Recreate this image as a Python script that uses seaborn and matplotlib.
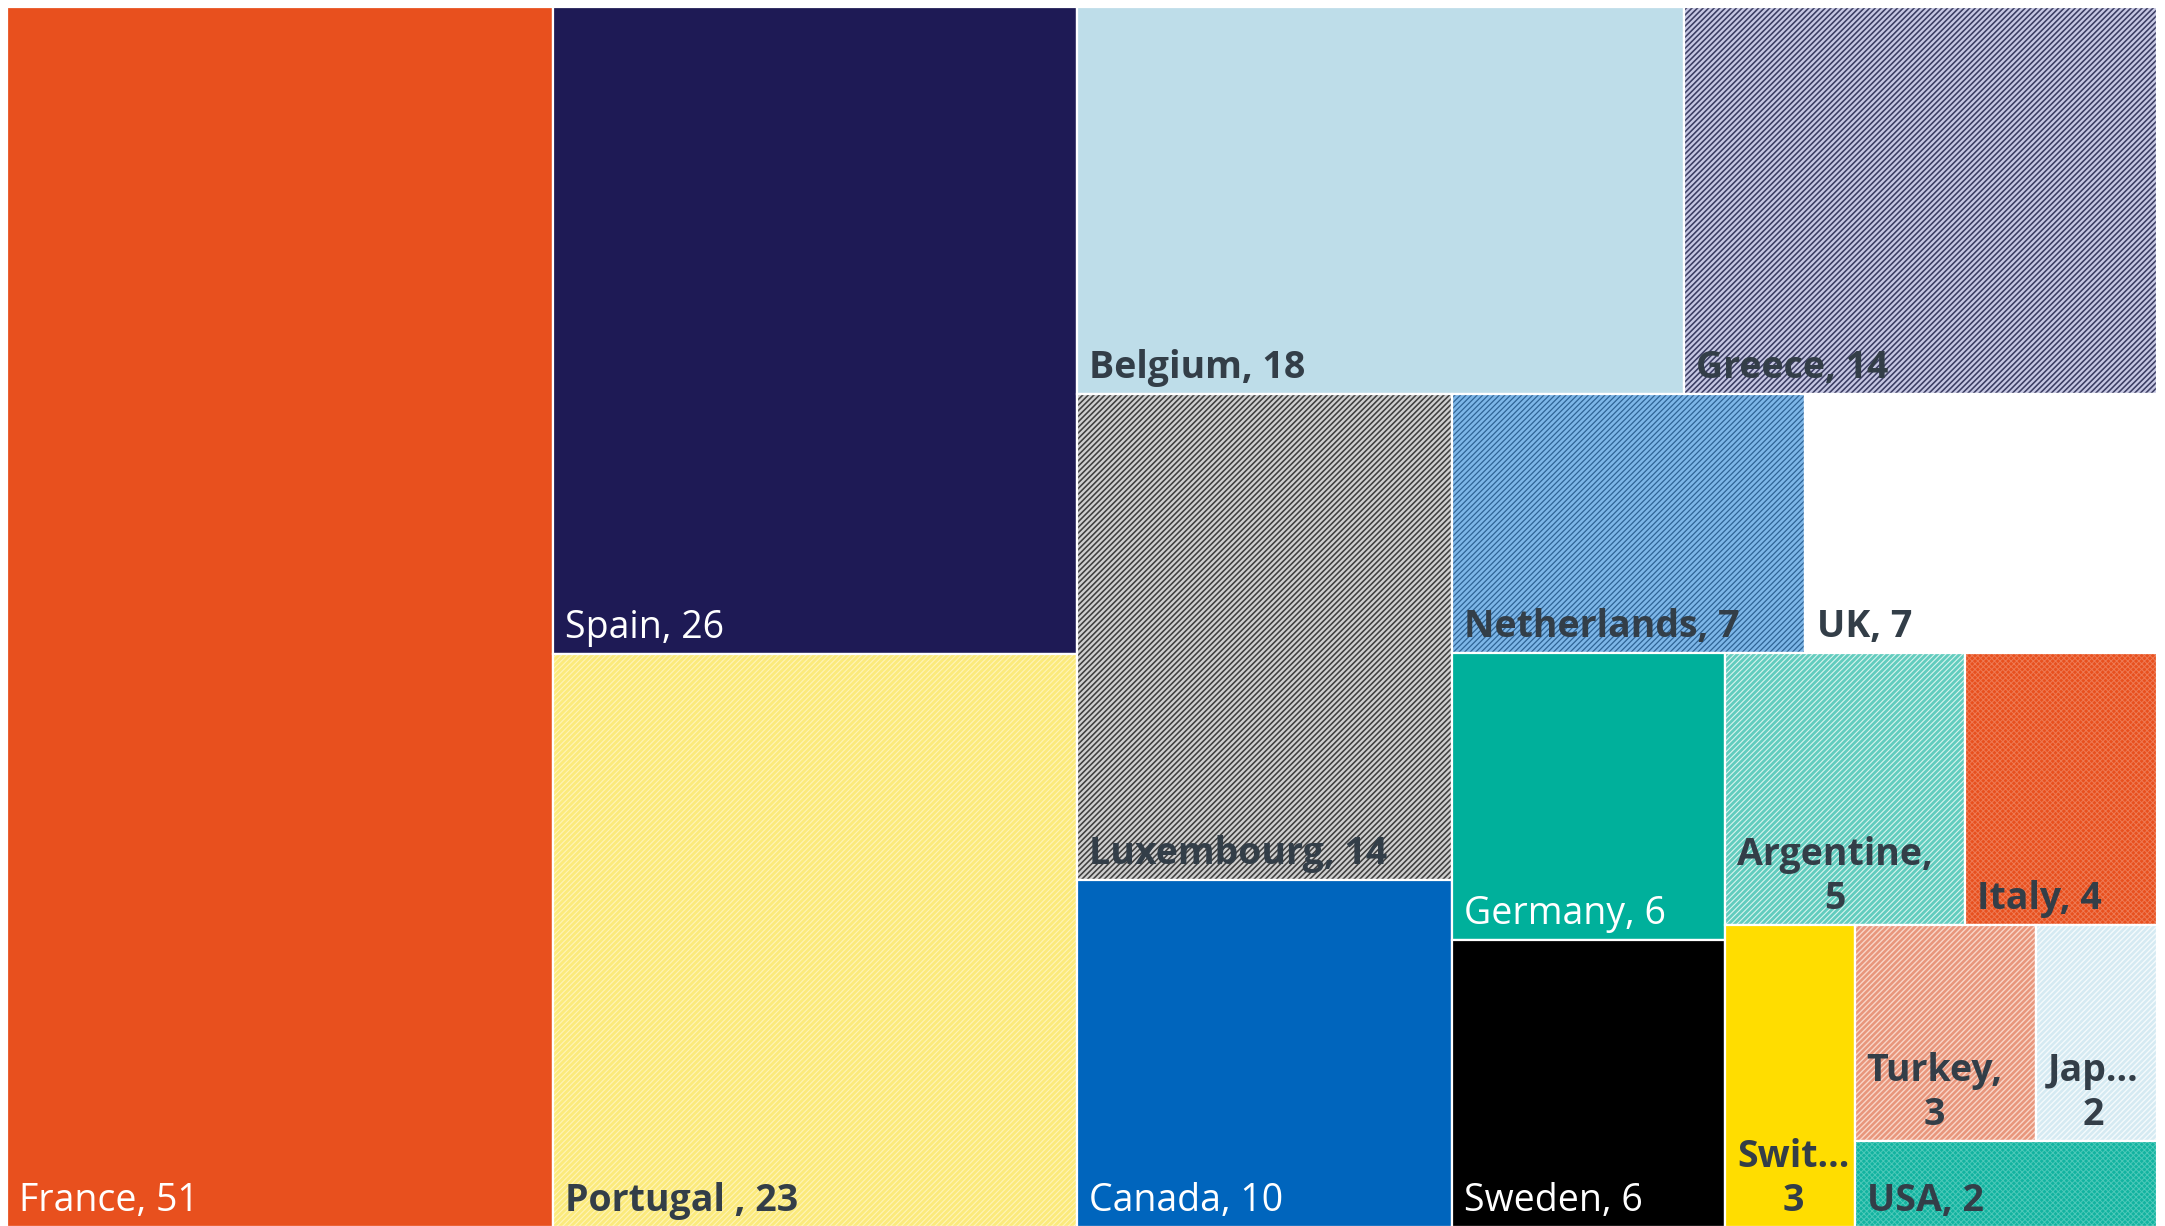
import matplotlib.pyplot as plt
import matplotlib.patches as patches
import seaborn as sns

#
# 01. Dados
#
paises = ["France", "Spain", "Portugal ", "Belgium", "Greece", "Luxembourg",
          "Canada", "Netherlands", "UK", "Germany", "Sweden", "Argentine",
          "Italy", "Switzerland", "Turkey", "Japan", "USA"]
valores = [51, 26, 23, 18, 14, 14, 10, 7, 7, 6, 6, 5, 4, 3, 3, 2, 2]

# quantos retângulos entram em cada faixa do treemap (igual ao Power BI)
faixas = [1, 2, 2, 2, 2, 2, 2, 1, 2, 1]

#
# 02. Estilo: (cor de fundo, hachura, cor da hachura, espessura da hachura)
#
estilos = [
    ("#E8501E", None, None, 0),              # France
    ("#1E1A55", None, None, 0),              # Spain
    ("#FBEA7C", "//////", "#FFF4B8", 0.8),   # Portugal
    ("#BEDDE9", None, None, 0),              # Belgium
    ("#C6C7E3", "//////", "#3B3D63", 1.15),  # Greece
    ("#CFCFCF", "//////", "#3F3F3F", 1.15),  # Luxembourg
    ("#0065BD", None, None, 0),              # Canada
    ("#7DB6E8", "//////", "#2F6496", 0.9),   # Netherlands
    ("#FFFFFF", None, None, 0),              # UK
    ("#00B09B", None, None, 0),              # Germany
    ("#000000", None, None, 0),              # Sweden
    ("#62CCBE", "//////", "#D9F4EF", 0.8),   # Argentine
    ("#E8501E", "xxxxxx", "#EE7A54", 0.7),   # Italy
    ("#FFDD00", None, None, 0),              # Switzerland
    ("#E8967C", "//////", "#F9D6C9", 1.0),   # Turkey
    ("#D5EAF2", "//////", "#F4FAFC", 1.0),   # Japan
    ("#12B3A0", "xxxxxx", "#4DC9B9", 0.7),   # USA
]
texto_claro = {"France", "Spain", "Canada", "Germany", "Sweden"}

LARGURA, ALTURA = 2150, 1220


#
# 03. Layout do treemap (faixas ao longo do lado menor)
#
def layout_treemap(vals, grupos, x, y, w, h):
    escala = w * h / sum(vals)
    rects = []
    i = 0
    for n in grupos:
        grupo = vals[i:i + n]
        i += n
        area = sum(grupo) * escala
        if w > h * 1.01:
            # coluna à esquerda
            cw = area / h
            yy = y
            for v in grupo:
                hh = v * escala / cw
                rects.append((x, yy, cw, hh))
                yy += hh
            x += cw
            w -= cw
        else:
            # linha no topo
            rh = area / w
            xx = x
            for v in grupo:
                ww = v * escala / rh
                rects.append((xx, y, ww, rh))
                xx += ww
            y += rh
            h -= rh
    return rects


retangulos = layout_treemap(valores, faixas, 0, 0, LARGURA, ALTURA)

#
# 04. Tema e figura
#
sns.set_theme(style="white")
plt.rcParams['font.family'] = ['Open Sans', 'DejaVu Sans']

fig = plt.figure(figsize=(21.65, 12.26), dpi=100)
ax = fig.add_axes([7 / 2165, -1 / 1226, LARGURA / 2165, ALTURA / 1226])
ax.set_xlim(0, LARGURA)
ax.set_ylim(ALTURA, 0)
ax.axis('off')

renderer = fig.canvas.get_renderer()


def largura_texto(s, props):
    t = ax.text(0, 0, s, **props)
    bb = t.get_window_extent(renderer)
    t.remove()
    return bb.width


def montar_rotulo(nome, valor, larg_linha, larg_corte, props):
    # uma linha só se sobrar folga; senão quebra; senão corta com "..."
    completo = f"{nome}, {valor}"
    if largura_texto(completo, props) <= larg_linha:
        return completo
    if largura_texto(f"{nome},", props) <= larg_linha:
        return f"{nome},\n{valor}"
    for k in range(len(nome) - 1, 0, -1):
        curto = nome[:k] + "..."
        if largura_texto(curto, props) <= larg_corte:
            return f"{curto}\n{valor}"
    return str(valor)


#
# 05. Retângulos e rótulos
#
pad_esq, pad_baixo = 12, 7
for nome, valor, (x, y, w, h), (cor, hach, cor_hach, lw) in zip(
        paises, valores, retangulos, estilos):
    with plt.rc_context({'hatch.linewidth': lw if lw else 1.0}):
        p = patches.Rectangle((x, y), w, h, facecolor=cor,
                              edgecolor=cor_hach if cor_hach else cor,
                              hatch=hach, linewidth=0)
    if hach and hasattr(p, "set_hatch_linewidth"):
        p.set_hatch_linewidth(lw)
    ax.add_patch(p)
    ax.add_patch(patches.Rectangle((x, y), w, h, fill=False,
                                   edgecolor="white", linewidth=1.6))

    claro = nome in texto_claro
    props = dict(fontsize=27,
                 color="white" if claro else "#333E48",
                 fontweight="normal" if claro else "bold",
                 ha="left", va="bottom", multialignment="center")
    rotulo = montar_rotulo(nome, valor, w - pad_esq - 18, w - pad_esq - 3,
                           props)
    ax.text(x + pad_esq, y + h - pad_baixo, rotulo, **props)

#
# 06. Gerando imagem
#
plt.savefig("out.png", dpi=100, facecolor="white")
